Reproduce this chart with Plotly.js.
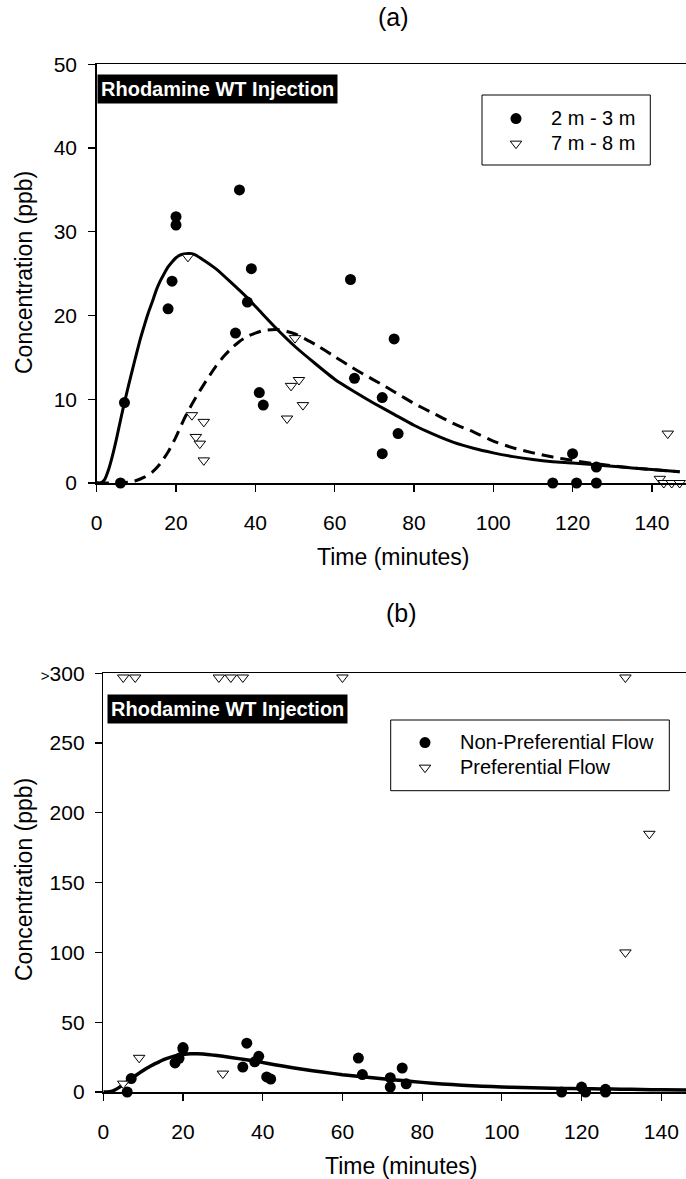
<!DOCTYPE html>
<html>
<head>
<meta charset="utf-8">
<script src="https://cdn.plot.ly/plotly-3.0.1.min.js"></script>
<style>
html,body{margin:0;padding:0;background:#fff;}
#chart{width:686px;height:1179px;}
</style>
</head>
<body>
<div id="chart"></div>
<script>
// ---- Data ----
// 2 m - 3 m (panel a) = Non-Preferential Flow (panel b) observations
const circTime = [6, 7, 18, 19, 20, 20, 35, 36, 38, 39, 41, 42, 64, 65, 72, 72, 75, 76, 115, 120, 121, 126, 126];
const circConc = [0, 9.6, 20.8, 24.1, 30.8, 31.8, 17.9, 35.0, 21.6, 25.6, 10.8, 9.3, 24.3, 12.5, 10.2, 3.5, 17.2, 5.9, 0, 3.5, 0, 1.9, 0];

// Panel (a): 7 m - 8 m observations
const triTime = [23, 24, 25, 26, 27, 27, 48, 49, 50, 51, 52, 142, 143, 144, 145, 147];
const triConc = [27.0, 8.1, 5.5, 4.7, 7.3, 2.7, 7.7, 11.6, 17.3, 12.3, 9.3, 0.5, 0, 5.9, 0, 0];

// Fitted curve (solid)
const fitTime = [0, 1, 2, 3, 4, 5, 6, 7, 8, 9, 10, 11, 12, 13, 14, 15, 16, 17, 18, 19, 20, 21, 22, 23.5, 25, 27, 30, 34, 37.8, 41, 45, 50, 55, 60, 65, 70, 75, 80, 85, 90, 95, 100, 105, 110, 115, 120, 125, 130, 135, 140, 147];
const fitConc = [0, 0, 0.4, 1.6, 3.3, 5.3, 7.5, 9.6, 11.6, 13.5, 15.4, 17.2, 18.8, 20.3, 21.6, 23.0, 24.1, 25.0, 25.8, 26.4, 26.9, 27.2, 27.35, 27.4, 27.2, 26.6, 25.6, 23.9, 22.2, 20.6, 18.6, 16.3, 14.3, 12.4, 10.9, 9.5, 8.2, 6.9, 5.8, 4.85, 4.15, 3.6, 3.15, 2.8, 2.55, 2.4, 2.2, 2.0, 1.8, 1.6, 1.35];

// Panel (a): fitted curve (dashed)
const fit2Time = [0, 5, 8, 10, 12, 14, 16, 18, 20, 22, 24, 26, 28, 30, 32, 34, 36, 38, 40, 42, 44, 46, 48, 50, 53, 56, 60, 64, 68, 71.4, 75, 80, 85, 90, 95, 100, 105, 110, 115, 120, 125, 130, 135, 140, 147];
const fit2Conc = [0, 0, 0.1, 0.3, 0.7, 1.3, 2.3, 3.7, 5.5, 7.6, 9.4, 11.0, 12.5, 13.9, 15.1, 16.1, 16.9, 17.5, 17.9, 18.2, 18.3, 18.3, 18.1, 17.8, 17.1, 16.3, 15.1, 13.9, 12.8, 11.9, 10.9, 9.5, 8.3, 7.1, 6.1, 5.0, 4.2, 3.6, 3.1, 2.7, 2.35, 2.05, 1.8, 1.6, 1.35];

// Panel (b): Preferential Flow observations (top row = ">300")
const prefTime = [5, 8, 29, 32, 35, 60, 131, 5, 9, 30, 131, 137];
const prefConc = [297, 297, 297, 297, 297, 297, 297, 6, 24.5, 13.2, 100, 185];

// Tick labels for panel (b) y axis
const bTickVals = [0, 50, 100, 150, 200, 250, 300];
const bTickText = ['0', '50', '100', '150', '200', '250', '<span style="font-size:15px">></span>300'];

// ---- Figure ----
const FONT = 'Liberation Sans, Arial, sans-serif';
const W = 686, H = 1179;
const px = v => v / W;
const py = v => (H - v) / H;
const big = s => '<span style="font-size:20px">' + s + '</span>';

const circMarker = {symbol: 'circle', size: 11, color: '#000', line: {width: 0}};
const triMarker = {symbol: 'triangle-down', size: 10, color: '#fff', line: {color: '#000', width: 1}};

const traces = [
  {x: fitTime, y: fitConc, mode: 'lines', line: {color: '#000', width: 3, shape: 'spline', smoothing: 0.5}, showlegend: false, xaxis: 'x', yaxis: 'y', hoverinfo: 'skip'},
  {x: fit2Time, y: fit2Conc, mode: 'lines', line: {color: '#000', width: 3, dash: '12px,7px', shape: 'spline', smoothing: 0.5}, showlegend: false, xaxis: 'x', yaxis: 'y', hoverinfo: 'skip'},
  {x: circTime, y: circConc, mode: 'markers', name: big('2 m - 3 m'), marker: circMarker, xaxis: 'x', yaxis: 'y', legend: 'legend', cliponaxis: false},
  {x: triTime, y: triConc, mode: 'markers', name: big('7 m - 8 m'), marker: triMarker, xaxis: 'x', yaxis: 'y', legend: 'legend', cliponaxis: false},
  {x: fitTime, y: fitConc, mode: 'lines', line: {color: '#000', width: 3.5, shape: 'spline', smoothing: 0.5}, showlegend: false, xaxis: 'x2', yaxis: 'y2', hoverinfo: 'skip'},
  {x: circTime, y: circConc, mode: 'markers', name: big('Non-Preferential Flow'), marker: circMarker, xaxis: 'x2', yaxis: 'y2', legend: 'legend2', cliponaxis: false},
  {x: prefTime, y: prefConc, mode: 'markers', name: big('Preferential Flow'), marker: triMarker, xaxis: 'x2', yaxis: 'y2', legend: 'legend2', cliponaxis: false}
];

const axisBase = {
  showline: true, linecolor: '#000', linewidth: 1.5, ticks: 'outside', ticklen: 7, tickwidth: 1.2, tickcolor: '#000',
  showgrid: false, zeroline: false, tickfont: {family: FONT, size: 21, color: '#000'}, fixedrange: true
};

const layout = {
  width: W, height: H,
  margin: {l: 0, r: 0, t: 0, b: 0},
  paper_bgcolor: '#fff', plot_bgcolor: '#fff',
  font: {family: FONT, color: '#000'},
  xaxis: Object.assign({}, axisBase, {domain: [px(96.7), 1], range: [0, 148.6], dtick: 20, tick0: 0, mirror: true, anchor: 'y', ticklabelstandoff: 13}),
  yaxis: Object.assign({}, axisBase, {domain: [py(483), py(64.3)], range: [0, 50], dtick: 10, tick0: 0, anchor: 'x', ticklabelstandoff: 7}),
  xaxis2: Object.assign({}, axisBase, {domain: [px(103.3), 1], range: [0, 146.2], dtick: 20, tick0: 0, mirror: true, anchor: 'y2', ticklabelstandoff: 13}),
  yaxis2: Object.assign({}, axisBase, {domain: [py(1092), py(673.3)], range: [0, 300], tickmode: 'array', tickvals: bTickVals, ticktext: bTickText, anchor: 'x2', ticklabelstandoff: 6}),
  legend: {x: px(481), y: py(101), xanchor: 'left', yanchor: 'top', bgcolor: 'rgba(0,0,0,0)', borderwidth: 0, font: {family: FONT, size: 17}, itemwidth: 60, tracegroupgap: 0},
  legend2: {x: px(390), y: py(725), xanchor: 'left', yanchor: 'top', bgcolor: 'rgba(0,0,0,0)', borderwidth: 0, font: {family: FONT, size: 17}, itemwidth: 60, tracegroupgap: 0},
  shapes: [
    {type: 'rect', xref: 'paper', yref: 'paper', x0: px(482), x1: px(650.3), y0: py(165), y1: py(95), line: {color: '#000', width: 1}},
    {type: 'rect', xref: 'paper', yref: 'paper', x0: px(390.7), x1: px(669.3), y0: py(790.7), y1: py(720), line: {color: '#000', width: 1}}
  ],
  annotations: [
    {text: '(a)', xref: 'paper', yref: 'paper', x: px(394), y: py(17), xanchor: 'center', yanchor: 'middle', showarrow: false, font: {family: FONT, size: 25}},
    {text: '(b)', xref: 'paper', yref: 'paper', x: px(401), y: py(613), xanchor: 'center', yanchor: 'middle', showarrow: false, font: {family: FONT, size: 25}},
    {text: 'Time (minutes)', xref: 'paper', yref: 'paper', x: px(394), y: py(557), xanchor: 'center', yanchor: 'middle', showarrow: false, font: {family: FONT, size: 23}},
    {text: 'Time (minutes)', xref: 'paper', yref: 'paper', x: px(401), y: py(1166), xanchor: 'center', yanchor: 'middle', showarrow: false, font: {family: FONT, size: 23}},
    {text: 'Concentration (ppb)', xref: 'paper', yref: 'paper', x: px(24), y: py(273), textangle: -90, xanchor: 'center', yanchor: 'middle', showarrow: false, font: {family: FONT, size: 23}},
    {text: 'Concentration (ppb)', xref: 'paper', yref: 'paper', x: px(24), y: py(880), textangle: -90, xanchor: 'center', yanchor: 'middle', showarrow: false, font: {family: FONT, size: 23}},
    {text: '<b>Rhodamine WT Injection</b>', xref: 'paper', yref: 'paper', x: px(97), y: py(74.3), xanchor: 'left', yanchor: 'top', showarrow: false, bgcolor: '#000', borderpad: 3, font: {family: FONT, size: 20, color: '#fff'}},
    {text: '<b>Rhodamine WT Injection</b>', xref: 'paper', yref: 'paper', x: px(106.7), y: py(694.3), xanchor: 'left', yanchor: 'top', showarrow: false, bgcolor: '#000', borderpad: 3, font: {family: FONT, size: 20, color: '#fff'}}
  ]
};

Plotly.newPlot('chart', traces, layout, {displayModeBar: false, staticPlot: true});
</script>
</body>
</html>
